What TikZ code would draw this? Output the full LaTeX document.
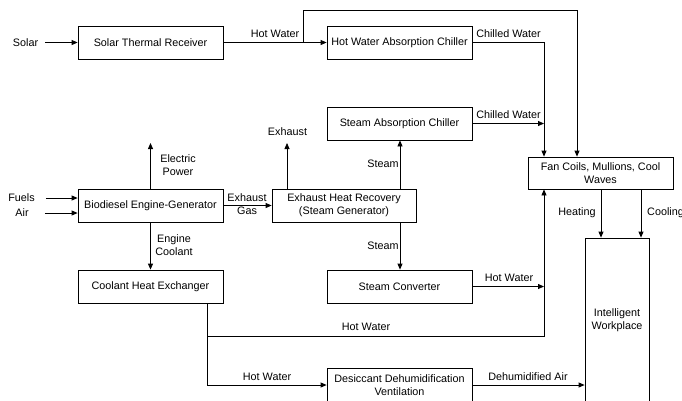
\documentclass[tikz,border=0pt]{standalone}
\usepackage{fontspec}
\setmainfont{Liberation Sans}
\usetikzlibrary{arrows.meta}
\begin{document}
\begin{tikzpicture}[x=1pt,y=-1pt,
  every node/.style={font=\fontsize{10.8}{13}\selectfont, inner sep=0pt},
  box/.style={draw, line width=0.8pt, minimum width=145pt, minimum height=33pt, align=center},
  lbl/.style={align=center},
  flow/.style={line width=0.8pt, -{Triangle[length=6pt,width=5pt]}},
  pipe/.style={line width=0.8pt}]
\useasboundingbox (0,0) rectangle (682,400);
\clip (0,0) rectangle (682,400);
% boxes
\node[box] (str) at (150.5,42.5) {Solar Thermal Receiver};
\node[box] (hwac) at (399.5,42.5) {Hot Water Absorption Chiller};
\node[box] (sac) at (399.5,123.5) {Steam Absorption Chiller};
\node[box] (beg) at (150.5,205.5) {Biodiesel Engine-Generator};
\node[box, minimum width=144pt] (ehr) at (344,205.5) {Exhaust Heat Recovery\\(Steam Generator)};
\node[box] (chx) at (150.5,286.5) {Coolant Heat Exchanger};
\node[box] (sc) at (399.5,286.5) {Steam Converter};
\node[box] (ddv) at (399.5,385) {Desiccant Dehumidification\\Ventilation};
\node[box, minimum height=32pt] (fc) at (600.5,173) {Fan Coils, Mullions, Cool\\Waves};
\node[box, minimum width=64pt, minimum height=164pt] (iw) at (617,320) {Intelligent\\Workplace};
% free labels / inputs
\node (solar) at (25.5,42.5) {Solar};
\node (fuels) at (21.5,198) {Fuels};
\node (air) at (22,213) {Air};
% helper coordinates
\coordinate (j1) at (303,42.5);
\coordinate (t1) at (303,10);
\coordinate (t2) at (577,10);
\coordinate (c1) at (544,42.5);
\coordinate (ex) at (287,143);
\coordinate (ep) at (150.5,143);
\coordinate (sx) at (400,0);
\coordinate (k1) at (207,336);
\coordinate (hx) at (601,0);
\coordinate (cx) at (641,0);
% connectors
\draw[flow, shorten <=7pt] (solar.east) -- (str.west);
\draw[flow, shorten <=11pt] (fuels.east) -- (fuels.east -| beg.west);
\draw[flow, shorten <=16pt] (air.east) -- (air.east -| beg.west);
\draw[flow] (str.east) -- (hwac.west);
\draw[flow] (j1) -- (t1) -- (t2) -- (t2 |- fc.north);
\draw[flow] (hwac.east) -- (c1) -- (c1 |- fc.north);
\draw[flow] (sac.east) -- (sac.east -| c1);
\draw[flow] (ex |- ehr.north) -- (ex);
\draw[flow] (beg.north) -- (ep);
\draw[flow] (beg.south) -- (chx.north);
\draw[flow] (beg.east) -- (ehr.west);
\draw[flow] (ehr.north -| sx) -- (sac.south -| sx);
\draw[flow] (ehr.south -| sx) -- (sc.north -| sx);
\draw[flow] (sc.east) -- (sc.east -| c1);
\draw[flow] (chx.south -| k1) -- (k1) -- (k1 -| c1) -- (fc.south -| c1);
\draw[flow] (k1) -- (k1 |- ddv.west) -- (ddv.west);
\draw[flow] (ddv.east) -- (ddv.east -| iw.west);
\draw[flow] (fc.south -| hx) -- (iw.north -| hx);
\draw[flow] (fc.south -| cx) -- (iw.north -| cx);
% connector labels
\node at (275,34) {Hot Water};
\node at (508.5,34) {Chilled Water};
\node at (508.5,115) {Chilled Water};
\node at (287.5,132) {Exhaust};
\node[lbl] at (178,165) {Electric\\Power};
\node[lbl] at (174,245.5) {Engine\\Coolant};
\node[lbl] at (247,204.5) {Exhaust\\Gas};
\node at (383,164) {Steam};
\node at (383,246) {Steam};
\node at (509,278) {Hot Water};
\node at (366,327) {Hot Water};
\node at (267,377) {Hot Water};
\node at (528,377) {Dehumidified Air};
\node at (577,213) {Heating};
\node[anchor=west] at (647,213) {Cooling};
\end{tikzpicture}
\end{document}
